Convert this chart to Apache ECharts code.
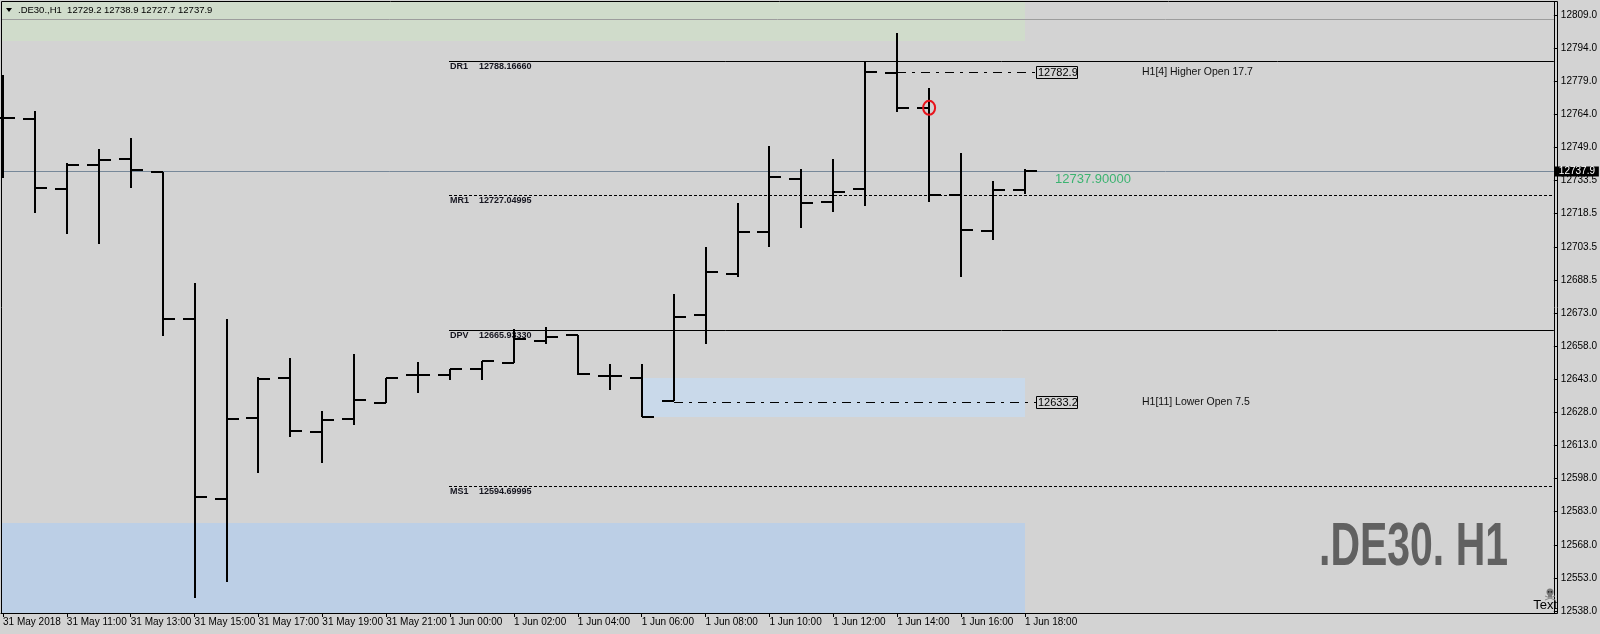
<!DOCTYPE html>
<html><head><meta charset="utf-8">
<script src="https://cdn.jsdelivr.net/npm/echarts@6/dist/echarts.min.js"></script>
<style>html,body{margin:0;padding:0;background:#d3d3d3;}#c{width:1600px;height:634px;}</style>
</head><body><div id="c"></div>
<script>
// ---- data ----
const symbol = '.DE30.,H1';
const watermark = '.DE30. H1';
const timeLabels = ['31 May 2018','31 May 11:00','31 May 13:00','31 May 15:00','31 May 17:00','31 May 19:00','31 May 21:00','1 Jun 00:00','1 Jun 02:00','1 Jun 04:00','1 Jun 06:00','1 Jun 08:00','1 Jun 10:00','1 Jun 12:00','1 Jun 14:00','1 Jun 16:00','1 Jun 18:00'];
const priceLabels = ['12538.0','12553.0','12568.0','12583.0','12598.0','12613.0','12628.0','12643.0','12658.0','12673.0','12688.5','12703.5','12718.5','12733.5','12749.0','12764.0','12779.0','12794.0','12809.0'];
const opens  = [12762.0,12761.7,12730.0,12740.8,12743.7,12737.7,12670.9,12588.9,12625.7,12644.1,12619.4,12625.4,12632.6,12645.3,12645.3,12648.0,12650.9,12660.9,12663.6,12644.8,12644.1,12633.5,12672.7,12691.2,12710.5,12734.6,12724.1,12729.9,12782.6,12766.8,12727.1,12710.8,12729.2];
const highs  = [12781.7,12765.3,12741.6,12748.1,12753.1,12737.7,12687.1,12670.8,12644.5,12652.9,12628.8,12654.7,12644.1,12651.1,12648.0,12651.8,12666.4,12667.2,12663.6,12650.1,12650.1,12682.1,12703.4,12723.4,12749.4,12739.1,12743.4,12788.2,12800.7,12775.7,12746.1,12733.5,12738.9];
const lows   = [12734.7,12719.1,12709.5,12705.0,12730.5,12663.2,12543.9,12551.0,12600.6,12617.0,12605.4,12622.4,12632.6,12637.0,12642.9,12642.9,12650.9,12659.4,12645.2,12638.4,12626.3,12633.5,12659.3,12689.7,12703.4,12712.0,12719.5,12722.3,12765.0,12724.1,12690.0,12706.8,12727.7];
const closes = [12762.2,12730.5,12740.8,12743.2,12738.6,12670.9,12590.0,12625.4,12643.6,12619.8,12624.8,12634.1,12644.1,12645.3,12648.0,12651.8,12661.8,12662.7,12645.6,12644.8,12626.3,12671.7,12692.1,12710.5,12735.4,12723.5,12728.6,12783.1,12766.8,12727.1,12711.2,12729.4,12737.9];
const pivotNames  = ['DR1','MR1','DPV','MS1'];
const pivotValues = [12788.16660,12727.04995,12665.93330,12594.69995];
const pivotStartBar = 14;
const zoneStart = [-1, -1, 20];
const zoneEnd   = [32, 32, 32];
const zoneLow   = [12797.4, 12400.0, 12626.3];
const zoneHigh  = [12900.0, 12578.2, 12644.1];
const levelStart  = [28, 21];
const levelPrices = [12782.9, 12633.2];
const levelNotes  = ['H1[4] Higher Open 17.7', 'H1[11] Lower Open 7.5'];
const lastPrice = 12737.9;
const dayHighLine = 12807.0;
const markedBar = 29;
const markedPrice = 12766.8;

// ---- layout / styles ----
const FONT = '"Liberation Sans", Arial, sans-serif';
const yMin = 12537.09, yMax = 12814.91;
const tickStep = (12809 - 12538) / (priceLabels.length - 1);
const yTickVals = priceLabels.map((_, k) => 12538 + k * tickStep);
const xTickVals = timeLabels.map((_, k) => 2 * k);
const zoneColors = ['#d0dccb', '#bccfe6', '#c9d9ea'];
const last = opens.length - 1;

function measure(font, text){const c=document.createElement('canvas').getContext('2d');c.font=font;return c.measureText(text).width;}
const wmFont = 'bold 61px "Liberation Sans Narrow", "Liberation Sans", sans-serif';
const wmScale = 189 / measure(wmFont, watermark);

const chart = echarts.init(document.getElementById('c'), null, {renderer:'canvas'});

const option = {
  backgroundColor: '#d3d3d3',
  animation: false,
  grid: {left: 1, top: 2, right: 43, bottom: 21, show: false},
  xAxis: {
    type: 'value', min: -0.0625, max: 48.5625,
    axisLine: {show: true, onZero: false, lineStyle: {color: '#000', width: 1}},
    axisTick: {show: true, length: 4, lineStyle: {color: '#000'}, customValues: xTickVals},
    axisLabel: {customValues: xTickVals, formatter: v => timeLabels[Math.round(v / 2)] || '',
      align: 'left', margin: 4, color: '#000', fontFamily: FONT, fontSize: 10, hideOverlap: false},
    splitLine: {show: false}
  },
  yAxis: {
    type: 'value', position: 'right', min: yMin, max: yMax,
    axisLine: {show: true, onZero: false, lineStyle: {color: '#000', width: 1}},
    axisTick: {show: true, length: 4, lineStyle: {color: '#000'}, customValues: yTickVals},
    axisLabel: {customValues: yTickVals, formatter: v => priceLabels[Math.round((v - 12538) / tickStep)] || '',
      margin: 7, color: '#000', fontFamily: FONT, fontSize: 10, hideOverlap: false},
    splitLine: {show: false}
  },
  series: [
    {
      type: 'custom', z: 1, silent: true,
      data: zoneStart.map((s, i) => [s, zoneEnd[i], zoneLow[i], zoneHigh[i]]),
      encode: {x: [0, 1], y: [2, 3]},
      renderItem(params, api) {
        const cs = params.coordSys;
        const a = api.coord([api.value(0), api.value(3)]);
        const b = api.coord([api.value(1), api.value(2)]);
        const x0 = Math.max(a[0], cs.x), x1 = Math.min(b[0], cs.x + cs.width);
        const y0 = Math.max(a[1], cs.y), y1 = Math.min(b[1], cs.y + cs.height);
        return {type: 'rect', shape: {x: Math.round(x0), y: Math.round(y0), width: Math.round(x1 - x0), height: Math.round(y1 - y0)},
          style: {fill: zoneColors[params.dataIndex]}};
      }
    },
    {
      type: 'custom', z: 2, silent: true,
      data: [[0, dayHighLine], [0, lastPrice]],
      encode: {y: 1},
      renderItem(params, api) {
        const cs = params.coordSys;
        const y = Math.round(api.coord([0, api.value(1)])[1]) + 0.5;
        return {type: 'line', shape: {x1: cs.x, y1: y, x2: cs.x + cs.width, y2: y},
          style: {stroke: params.dataIndex === 0 ? '#9d9d9d' : '#778899', lineWidth: 1}};
      }
    },
    {
      type: 'custom', z: 3, silent: true,
      data: pivotValues.map((v, i) => [pivotStartBar, v]),
      encode: {x: 0, y: 1},
      renderItem(params, api) {
        const cs = params.coordSys;
        const p = api.coord([api.value(0), api.value(1)]);
        const y = Math.round(p[1]) + 0.5, x = Math.round(p[0]);
        const name = pivotNames[params.dataIndex];
        const dotted = name.charAt(0) === 'M';
        return {type: 'group', children: [
          {type: 'line', shape: {x1: x - 1, y1: y, x2: cs.x + cs.width, y2: y},
            style: {stroke: '#000', lineWidth: 1, lineDash: dotted ? [3, 2] : null}},
          {type: 'text', style: {text: name, x: x, y: y + 0.5, textAlign: 'left', textVerticalAlign: 'top',
            fill: '#15151f', font: 'bold 9px ' + FONT}},
          {type: 'text', style: {text: api.value(1).toFixed(5), x: x + 29, y: y + 0.5, textAlign: 'left', textVerticalAlign: 'top',
            fill: '#15151f', font: 'bold 9px ' + FONT}}
        ]};
      }
    },
    {
      type: 'custom', z: 4, silent: true,
      data: levelStart.map((s, i) => [s, levelPrices[i]]),
      encode: {x: 0, y: 1},
      renderItem(params, api) {
        const p = api.coord([api.value(0), api.value(1)]);
        const e = api.coord([last, api.value(1)]);
        const y = Math.round(p[1]) + 0.5;
        const bx = Math.round(e[0]) + 11;
        return {type: 'group', children: [
          {type: 'line', shape: {x1: Math.round(p[0]), y1: y, x2: bx, y2: y},
            style: {stroke: '#000', lineWidth: 1, lineDash: [9, 6, 3, 6]}},
          {type: 'rect', shape: {x: bx + 0.5, y: y - 6, width: 41, height: 12},
            style: {fill: 'rgba(0,0,0,0)', stroke: '#000', lineWidth: 1}},
          {type: 'text', style: {text: api.value(1).toFixed(1), x: bx + 2, y: y, textAlign: 'left', textVerticalAlign: 'middle',
            fill: '#000', font: '11px ' + FONT}},
          {type: 'text', style: {text: levelNotes[params.dataIndex], x: bx + 106, y: y, textAlign: 'left', textVerticalAlign: 'middle',
            fill: '#111', font: '10.5px ' + FONT}}
        ]};
      }
    },
    {
      type: 'custom', z: 10, silent: true,
      data: opens.map((o, i) => [i, o, highs[i], lows[i], closes[i]]),
      encode: {x: 0, y: [1, 2, 3, 4]},
      renderItem(params, api) {
        const i = api.value(0);
        const ph = api.coord([i, api.value(2)]), pl = api.coord([i, api.value(3)]);
        const po = api.coord([i, api.value(1)]), pc = api.coord([i, api.value(4)]);
        const X = Math.round(ph[0]);
        const st = {stroke: '#000', lineWidth: 2};
        const yo = Math.round(po[1]), yc = Math.round(pc[1]);
        return {type: 'group', children: [
          {type: 'line', shape: {x1: X, y1: Math.round(ph[1]), x2: X, y2: Math.round(pl[1])}, style: st},
          {type: 'line', shape: {x1: X - 12, y1: yo, x2: X, y2: yo}, style: st},
          {type: 'line', shape: {x1: X, y1: yc, x2: X + 12, y2: yc}, style: st}
        ]};
      }
    },
    {
      type: 'custom', z: 20, silent: true,
      data: [[markedBar, markedPrice]],
      encode: {x: 0, y: 1},
      renderItem(params, api) {
        const c = api.coord([api.value(0), api.value(1)]);
        return {type: 'ellipse', shape: {cx: c[0], cy: c[1], rx: 6, ry: 7},
          style: {fill: 'none', stroke: '#e8141c', lineWidth: 2}};
      }
    },
    {
      type: 'custom', z: 21, silent: true,
      data: [[last, lastPrice]],
      encode: {x: 0, y: 1},
      renderItem(params, api) {
        const cs = params.coordSys;
        const c = api.coord([api.value(0), api.value(1)]);
        const y = Math.round(c[1]);
        return {type: 'group', children: [
          {type: 'text', style: {text: api.value(1).toFixed(5), x: Math.round(c[0]) + 30, y: y + 2, textAlign: 'left', textVerticalAlign: 'top',
            fill: '#3cb371', font: '13px ' + FONT}},
          {type: 'rect', shape: {x: cs.x + cs.width + 1, y: y - 4.5, width: 44, height: 10}, style: {fill: '#000'}},
          {type: 'text', style: {text: api.value(1).toFixed(1), x: cs.x + cs.width + 5, y: y + 0.5, textAlign: 'left', textVerticalAlign: 'middle',
            fill: '#fff', font: '10px ' + FONT}}
        ]};
      }
    }
  ],
  graphic: [
    {type: 'polygon', z: 50, shape: {points: [[6, 8], [12, 8], [9, 12]]}, style: {fill: '#000'}},
    {type: 'text', z: 50, style: {text: symbol + '  ' + [opens[last], highs[last], lows[last], closes[last]].map(v => v.toFixed(1)).join(' '),
      x: 18, y: 10.5, textVerticalAlign: 'middle', fill: '#000', font: '9.5px ' + FONT}},
    {type: 'text', z: 50, x: 1319, y: 518, scaleX: wmScale, style: {text: watermark, x: 0, y: 0, textVerticalAlign: 'top',
      fill: '#616161', font: wmFont}},
    // small skull icon
    {type: 'circle', z: 50, shape: {cx: 1550, cy: 592, r: 3.5}, style: {fill: '#7a7a7a'}},
    {type: 'rect', z: 50, shape: {x: 1548, y: 594, width: 4, height: 3}, style: {fill: '#7a7a7a'}},
    {type: 'circle', z: 51, shape: {cx: 1548.6, cy: 591.8, r: 0.9}, style: {fill: '#222'}},
    {type: 'circle', z: 51, shape: {cx: 1551.4, cy: 591.8, r: 0.9}, style: {fill: '#222'}},
    {type: 'line', z: 50, shape: {x1: 1545, y1: 596, x2: 1555, y2: 600}, style: {stroke: '#8a8a8a', lineWidth: 1}},
    {type: 'line', z: 50, shape: {x1: 1555, y1: 596, x2: 1545, y2: 600}, style: {stroke: '#8a8a8a', lineWidth: 1}},
    {type: 'text', z: 52, style: {text: 'Text', x: 1557, y: 605, textAlign: 'right', textVerticalAlign: 'middle', fill: '#000', font: '13px ' + FONT}},
    {type: 'rect', z: 60, shape: {x: 1.5, y: 1.5, width: 1556, height: 612}, style: {fill: 'none', stroke: '#000', lineWidth: 1}}
  ]
};
chart.setOption(option);
</script></body></html>
